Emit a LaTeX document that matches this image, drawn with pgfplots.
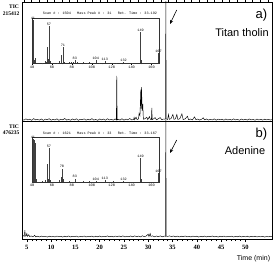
\documentclass[border=0pt]{standalone}
\usepackage{pgfplots}
\pgfplotsset{compat=1.18}
\usetikzlibrary{arrows.meta}
\usepackage{fontspec}
\setmainfont{Liberation Sans}
\newfontfamily\seriffont{Liberation Serif}
\newfontfamily\monofont{Liberation Mono}
\begin{document}
\begin{tikzpicture}
\useasboundingbox (0pt,0pt) rectangle (275pt,267pt);
\pgfplotsset{
 chrom/.style={scale only axis, width=250pt, xmin=4, xmax=55.5, ytick=\empty,
   axis line style={black, line width=0.5pt}, tick style={black, line width=0.4pt},
   tick align=outside, clip=true},
 inset/.style={scale only axis, width=127.5pt, height=45pt, xmin=40, xmax=168, ymin=0, ymax=104,
   ytick=\empty, xtick={40,60,...,160}, minor x tick num=1, tick align=outside,
   major tick length=1.5pt, minor tick length=0.8pt, tick style={black, line width=0.3pt},
   axis line style={black!80, line width=0.4pt}, xtick pos=left,
   xticklabel style={font=\monofont\fontsize{3.6}{3.6}\selectfont, inner sep=0.6pt},
   /pgf/number format/assume math mode=true, clip=false},
 lbl/.style={draw=none, mark=none, nodes near coords, point meta=explicit symbolic,
   nodes near coords style={font=\monofont\fontsize{3.5}{3.5}\selectfont, inner sep=0.4pt, anchor=south}}
}
% ---------- panel a ----------
\begin{axis}[chrom, at={(22pt,146pt)}, anchor=south west, height=119pt, ymin=-0.5, ymax=100,
  xtick={4.38,5.95,...,55}, xticklabel=\empty, xtick pos=right, major tick length=2.5pt]
\addplot[black, line width=0.45pt] table {
4.0 0.9
4.4 0.2
4.8 1.3
5.2 0.4
5.6 1.0
6.0 0.1
6.4 1.5
6.8 0.5
7.2 0.8
7.6 0.3
8.0 1.2
8.4 0.0
8.8 1.1
9.2 0.6
9.6 1.4
10.0 0.2
10.4 0.9
10.8 0.4
11.2 1.3
11.6 0.1
12.0 1.0
12.4 0.5
12.8 1.6
13.2 0.3
13.6 0.8
14.0 0.2
14.4 1.2
14.8 0.4
15.2 1.4
15.6 0.1
16.0 0.9
16.4 0.6
16.8 1.3
17.2 0.2
17.6 1.0
18.0 0.4
18.4 1.5
18.8 0.3
19.2 0.8
19.6 0.1
20.0 1.2
20.4 0.5
20.8 1.1
21.2 0.2
21.6 1.4
22.0 0.4
22.4 0.9
22.8 0.2
23.2 1.3
23.44 0.5
23.52 37.6
23.60 0.4
23.8 1.0
24.2 0.3
24.6 1.4
25.0 0.2
25.4 1.1
25.8 0.5
26.2 1.6
26.6 0.4
27.0 0.8
27.09 2.5
27.2 0.6
27.5 2.8
27.7 0.7
28.0 1.2
28.12 6
28.3 4
28.47 26
28.55 10
28.62 28
28.75 8
28.88 14
29.0 1.0
29.3 1.4
29.71 2.6
29.9 0.6
30.25 3.2
30.45 0.8
30.66 0.9
30.74 10.5
30.82 0.7
31.1 1.3
31.42 2.4
31.7 0.5
32.1 1.4
32.46 2.4
32.8 0.6
33.2 1.2
33.56 1.0
33.63 110
33.70 1.2
34.0 0.8
34.17 5
34.35 0.9
34.7 1.5
35.08 5
35.3 0.9
35.6 1.3
35.9 5
36.1 0.8
36.5 1.4
36.94 5.5
37.2 0.7
37.6 1.3
38.09 3.5
38.3 0.6
38.7 1.2
39.1 0.4
39.54 3
39.8 0.7
40.2 1.1
40.6 0.3
41.0 1.0
41.33 2.2
41.6 0.5
42.0 1.2
42.4 0.3
42.8 0.9
43.2 0.4
43.6 1.3
44.0 0.2
44.4 1.1
44.8 0.5
45.2 1.0
45.6 0.2
46.0 1.2
46.4 0.4
46.8 0.9
47.2 0.3
47.6 1.3
48.0 0.5
48.4 0.8
48.8 0.2
49.2 1.1
49.6 0.4
50.0 1.0
50.4 0.3
50.8 1.2
51.2 0.5
51.6 0.8
52.0 0.2
52.4 1.1
52.8 0.4
53.2 0.9
53.6 0.3
54.0 1.0
54.4 0.5
54.8 0.8
55.2 0.3
55.5 0.7
};
\end{axis}
% ---------- panel b ----------
\begin{axis}[chrom, at={(22pt,28pt)}, anchor=south west, height=118pt, ymin=-1.7, ymax=100,
  xtick={5,10,...,50}, minor x tick num=4, xtick pos=left, major tick length=3pt, minor tick length=2pt,
  xticklabel style={font=\seriffont\bfseries\fontsize{6.5}{6.5}\selectfont},
  /pgf/number format/assume math mode=true]
\addplot[black, line width=0.45pt] table {
4.0 0.5
4.3 1.2
4.5 0.6
4.59 6.0
4.68 0.8
4.85 1.0
5.0 3.0
5.1 0.6
5.4 2.0
5.55 0.4
5.9 0.9
6.3 0.3
6.6 1.5
6.8 0.2
7.2 0.7
7.6 0.1
8.0 0.8
8.4 0.3
8.8 0.6
9.2 0.0
9.6 0.7
10.0 0.2
10.4 0.5
10.8 0.1
11.2 0.8
11.6 0.3
12.0 0.6
12.4 0.0
12.8 0.7
13.2 0.2
13.6 0.9
14.0 0.1
14.4 0.6
14.8 0.3
15.2 0.8
15.6 0.0
16.0 0.5
16.4 0.2
16.8 0.9
17.2 0.1
17.6 0.6
18.0 0.3
18.4 0.8
18.8 0.0
19.2 0.7
19.6 0.2
20.0 0.9
20.4 0.1
20.8 0.6
21.2 0.3
21.6 1.0
22.0 0.2
22.4 0.7
22.8 0.1
23.2 0.8
23.6 0.3
24.0 0.9
24.4 0.2
24.8 1.0
25.2 0.1
25.6 0.7
26.0 0.3
26.4 0.9
26.8 0.2
27.2 1.0
27.6 0.3
28.0 0.8
28.4 0.1
28.8 1.1
29.2 0.3
29.6 0.9
30.0 2.5
30.15 0.4
30.4 3.0
30.55 0.5
30.9 1.0
31.3 0.2
31.7 0.9
32.1 0.3
32.5 1.0
32.9 0.2
33.3 0.8
33.56 0.6
33.63 110
33.70 0.8
34.0 0.5
34.4 1.0
34.8 0.3
35.2 0.9
35.6 0.2
36.0 0.8
36.4 0.1
36.8 0.7
37.2 0.3
37.6 0.9
38.0 0.2
38.4 0.6
38.8 0.1
39.2 0.8
39.6 0.3
40.0 0.7
40.4 0.0
40.8 0.6
41.2 0.2
41.6 0.8
42.0 0.1
42.4 0.7
42.8 0.3
43.2 0.9
43.6 0.2
44.0 0.6
44.4 0.0
44.8 0.7
45.2 0.2
45.6 0.8
46.0 0.1
46.4 0.6
46.8 0.3
47.2 0.7
47.6 0.0
48.0 0.6
48.4 0.2
48.8 0.8
49.2 0.1
49.6 0.5
50.0 0.2
50.4 0.7
50.8 0.0
51.2 0.6
51.6 0.2
52.0 0.7
52.4 0.1
52.8 0.5
53.2 0.2
53.6 0.6
54.0 0.0
54.4 0.5
54.8 0.2
55.2 0.6
55.5 0.3
};
\end{axis}
% ---------- inset a ----------
\begin{axis}[inset, at={(32pt,203.5pt)}, anchor=south west]
\addplot[ycomb, black!75, line width=0.35pt, mark=none] table {
41 100
42 8
43 12
50 2
53 6
54 3
55 38
56 10
57 86
58 6
60 2
65 2
67 5
69 20
71 38
72 4
77 3
79 4
81 3
83 8
85 4
91 3
95 2
97 4
104 8
107 2
113 6
121 2
125 2
132 3
141 2
149 72
150 8
160 2
167 25
};
\addplot[lbl] table[meta=label] {
x y label
41 100 41
57 86 57
71 38 71
83 8 83
104 8 104
113 6 113
132 3 132
149 72 149
167 25 167
};
\end{axis}
% ---------- inset b ----------
\begin{axis}[inset, at={(32pt,85pt)}, anchor=south west]
\addplot[ycomb, black!75, line width=0.35pt, mark=none] table {
41 100
42 96
43 90
44 8
50 3
53 5
55 42
56 8
57 78
58 5
67 4
69 12
70 31
71 6
77 3
83 8
91 3
97 2
104 3
113 4
121 2
132 3
149 56
150 6
167 20
};
\addplot[lbl] table[meta=label] {
x y label
41 100 41
57 78 57
70 31 70
83 8 83
104 3 104
113 4 113
132 3 132
149 56 149
167 20 167
};
\end{axis}
% ---------- annotations ----------
\node[font=\monofont\fontsize{3.5}{3.5}\selectfont] at (100pt,254pt) {Scan \# : 1504~~~Mass Peak \# : 31~~~Ret. Time : 33.192};
\node[font=\monofont\fontsize{3.5}{3.5}\selectfont] at (100pt,134pt) {Scan \# : 1621~~~Mass Peak \# : 33~~~Ret. Time : 33.167};
\node[font=\seriffont\bfseries\fontsize{5.5}{5.5}\selectfont] at (14pt,260.5pt) {TIC};
\node[font=\seriffont\bfseries\fontsize{5.5}{5.5}\selectfont] at (11pt,253.5pt) {215412};
\node[font=\seriffont\bfseries\fontsize{5.5}{5.5}\selectfont] at (14pt,140.5pt) {TIC};
\node[font=\seriffont\bfseries\fontsize{5.5}{5.5}\selectfont] at (11pt,134.5pt) {476235};
\node[font=\fontsize{13}{13}\selectfont] at (261.5pt,251.5pt) {a)};
\node[font=\fontsize{11}{11}\selectfont] at (242pt,234pt) {Titan tholin};
\node[font=\fontsize{13}{13}\selectfont] at (261.5pt,133pt) {b)};
\node[font=\fontsize{11}{11}\selectfont] at (245pt,116.3pt) {Adenine};
\node[font=\fontsize{7}{7}\selectfont] at (253.5pt,8.5pt) {Time (min)};
\draw[-{Stealth[length=4pt,width=3.2pt]}, line width=0.6pt] (176.7pt,257pt) -- (170pt,243pt);
\draw[-{Stealth[length=4pt,width=3.2pt]}, line width=0.6pt] (176.7pt,127pt) -- (170pt,114pt);
\end{tikzpicture}
\end{document}
